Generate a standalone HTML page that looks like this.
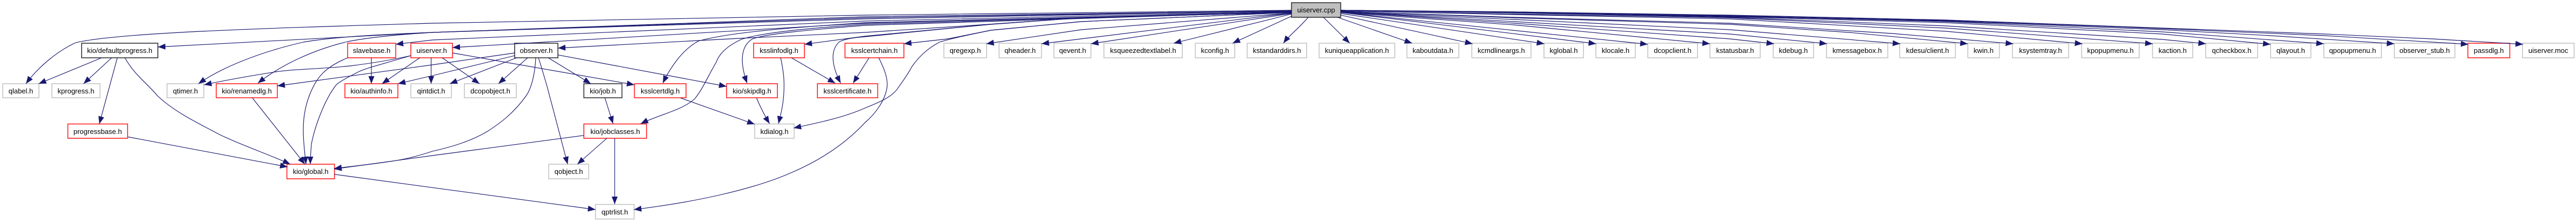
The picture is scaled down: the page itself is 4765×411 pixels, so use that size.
<!DOCTYPE html>
<html><head><meta charset="utf-8"><style>
html,body{margin:0;padding:0;background:#fff;width:4765px;height:411px;overflow:hidden}
svg{display:block}
text{font-family:"Liberation Sans",Arial,sans-serif;font-size:13px;fill:#000;text-anchor:middle}
.n rect{fill:#fff;stroke:#c4c4c4;stroke-width:1.6}
.r rect{fill:#fff;stroke:#ff2020;stroke-width:1.6}
.d rect{fill:#fff;stroke:#333;stroke-width:1.6}
.e path{fill:none;stroke:#191970;stroke-width:1.15;stroke-linejoin:round;marker-end:url(#a)}
</style></head><body>
<svg xmlns="http://www.w3.org/2000/svg" width="4765" height="411" viewBox="0 0 4765 411">
<defs><marker id="a" markerUnits="userSpaceOnUse" markerWidth="16" markerHeight="14" refX="14" refY="6" orient="auto"><path d="M0,0.5L14,6L0,11.5z" fill="#191970"/></marker></defs>
<rect width="4765" height="411" fill="#fff"/>
<g>
<g><rect x="2389" y="5" width="91" height="27" fill="#bfbfbf" stroke="#333" stroke-width="1.6"/><text x="2434.5" y="23">uiserver.cpp</text></g>
<g class="d"><rect x="151" y="80" width="141" height="27"/><text x="221.5" y="98">kio/defaultprogress.h</text></g>
<g class="r"><rect x="643" y="80" width="89" height="27"/><text x="687.5" y="98">slavebase.h</text></g>
<g class="r"><rect x="760" y="80" width="77" height="27"/><text x="798.5" y="98">uiserver.h</text></g>
<g class="d"><rect x="952" y="80" width="80" height="27"/><text x="992" y="98">observer.h</text></g>
<g class="r"><rect x="1394" y="80" width="94" height="27"/><text x="1441" y="98">ksslinfodlg.h</text></g>
<g class="r"><rect x="1563" y="80" width="109" height="27"/><text x="1617.5" y="98">ksslcertchain.h</text></g>
<g class="n"><rect x="1746" y="80" width="79" height="27"/><text x="1785.5" y="98">qregexp.h</text></g>
<g class="n"><rect x="1848" y="80" width="78.500" height="27"/><text x="1887" y="98">qheader.h</text></g>
<g class="n"><rect x="1949.500" y="80" width="68.500" height="27"/><text x="1984" y="98">qevent.h</text></g>
<g class="n"><rect x="2042" y="80" width="145" height="27"/><text x="2114.500" y="98">ksqueezedtextlabel.h</text></g>
<g class="n"><rect x="2211" y="80" width="73" height="27"/><text x="2247.500" y="98">kconfig.h</text></g>
<g class="n"><rect x="2307" y="80" width="110" height="27"/><text x="2362" y="98">kstandarddirs.h</text></g>
<g class="n"><rect x="2440" y="80" width="140" height="27"/><text x="2510" y="98">kuniqueapplication.h</text></g>
<g class="n"><rect x="2602.500" y="80" width="96" height="27"/><text x="2650.500" y="98">kaboutdata.h</text></g>
<g class="n"><rect x="2722.500" y="80" width="109.500" height="27"/><text x="2777" y="98">kcmdlineargs.h</text></g>
<g class="n"><rect x="2856" y="80" width="73" height="27"/><text x="2892.500" y="98">kglobal.h</text></g>
<g class="n"><rect x="2952" y="80" width="73" height="27"/><text x="2988.500" y="98">klocale.h</text></g>
<g class="n"><rect x="3048" y="80" width="92" height="27"/><text x="3094" y="98">dcopclient.h</text></g>
<g class="n"><rect x="3163" y="80" width="93" height="27"/><text x="3209.500" y="98">kstatusbar.h</text></g>
<g class="n"><rect x="3280" y="80" width="74.600" height="27"/><text x="3317.300" y="98">kdebug.h</text></g>
<g class="n"><rect x="3378.600" y="80" width="113.400" height="27"/><text x="3435.300" y="98">kmessagebox.h</text></g>
<g class="n"><rect x="3514" y="80" width="103" height="27"/><text x="3565.500" y="98">kdesu/client.h</text></g>
<g class="n"><rect x="3640" y="80" width="58.500" height="27"/><text x="3669.200" y="98">kwin.h</text></g>
<g class="n"><rect x="3722.500" y="80" width="104" height="27"/><text x="3774.500" y="98">ksystemtray.h</text></g>
<g class="n"><rect x="3850.500" y="80" width="106.500" height="27"/><text x="3903.700" y="98">kpopupmenu.h</text></g>
<g class="n"><rect x="3981.600" y="80" width="74.400" height="27"/><text x="4018.800" y="98">kaction.h</text></g>
<g class="n"><rect x="4080" y="80" width="96" height="27"/><text x="4128" y="98">qcheckbox.h</text></g>
<g class="n"><rect x="4200" y="80" width="74.600" height="27"/><text x="4237.300" y="98">qlayout.h</text></g>
<g class="n"><rect x="4298.500" y="80" width="106.500" height="27"/><text x="4351.700" y="98">qpopupmenu.h</text></g>
<g class="n"><rect x="4429" y="80" width="112" height="27"/><text x="4485" y="98">observer_stub.h</text></g>
<g class="r"><rect x="4565" y="80" width="77.500" height="27"/><text x="4603.700" y="98">passdlg.h</text></g>
<g class="n"><rect x="4666" y="80" width="95.500" height="27"/><text x="4713.700" y="98">uiserver.moc</text></g>
<g class="n"><rect x="5" y="155" width="67" height="26"/><text x="38.500" y="173">qlabel.h</text></g>
<g class="n"><rect x="96" y="155" width="89" height="26"/><text x="140.500" y="173">kprogress.h</text></g>
<g class="n"><rect x="309" y="155" width="68" height="26"/><text x="343" y="173">qtimer.h</text></g>
<g class="r"><rect x="400" y="155" width="113" height="26"/><text x="456.500" y="173">kio/renamedlg.h</text></g>
<g class="r"><rect x="638" y="155" width="98" height="26"/><text x="687" y="173">kio/authinfo.h</text></g>
<g class="n"><rect x="760" y="155" width="75" height="26"/><text x="797.500" y="173">qintdict.h</text></g>
<g class="n"><rect x="859" y="155" width="96" height="26"/><text x="907" y="173">dcopobject.h</text></g>
<g class="d"><rect x="1080" y="155" width="70.500" height="26"/><text x="1115.200" y="173">kio/job.h</text></g>
<g class="r"><rect x="1173.500" y="155" width="95.500" height="26"/><text x="1221.200" y="173">ksslcertdlg.h</text></g>
<g class="r"><rect x="1344" y="155" width="94" height="26"/><text x="1391" y="173">kio/skipdlg.h</text></g>
<g class="r"><rect x="1512" y="155" width="111.500" height="26"/><text x="1567.700" y="173">ksslcertificate.h</text></g>
<g class="r"><rect x="125.500" y="229.500" width="110.500" height="26.500"/><text x="180.700" y="248">progressbase.h</text></g>
<g class="r"><rect x="1080" y="229.500" width="116" height="26.500"/><text x="1138" y="248">kio/jobclasses.h</text></g>
<g class="n"><rect x="1396" y="229.500" width="73" height="26.500"/><text x="1432.500" y="248">kdialog.h</text></g>
<g class="r"><rect x="530.700" y="304" width="88" height="27"/><text x="574.700" y="322">kio/global.h</text></g>
<g class="n"><rect x="1015" y="304" width="74" height="27"/><text x="1052" y="322">qobject.h</text></g>
<g class="n"><rect x="1101.500" y="378.500" width="71.500" height="27"/><text x="1137.200" y="397">qptrlist.h</text></g>
</g>
<g class="e">
<path d="M2389,19L1600,28L800,43C500,52 220,60 140,79C105,95 70,125 48,155"/>
<path d="M2389,20L1600,31L800,60L292,87"/>
<path d="M2389,20L1600,33L800,60C700,64 620,68 561,78C500,92 420,118 367,155"/>
<path d="M2389,20L1600,35L800,60C740,64 690,68 643,77C580,92 520,120 477,154"/>
<path d="M2389,21L1600,39L800,74L732,82"/>
<path d="M2389,22L1600,43L837,88"/>
<path d="M2389,22L1600,42C1450,52 1350,60 1292,76C1262,92 1240,125 1226,154"/>
<path d="M2389,22L1600,45C1500,52 1410,60 1371,73C1345,85 1330,100 1325,115C1310,140 1300,165 1285,183C1260,205 1225,210 1185,229"/>
<path d="M2389,22L1600,47C1500,55 1420,62 1392,72C1370,85 1368,115 1382,154"/>
<path d="M2389,23L2000,33L1800,47L1600,60L1387,70L1032,89"/>
<path d="M2389,23L2000,33L1833,45L1600,68C1575,70 1565,72 1553,77C1538,90 1535,115 1555,154"/>
<path d="M2389,23L2000,33L1833,45L1600,67L1488,82"/>
<path d="M2389,23L2000,40L1833,56L1753,72L1672,81"/>
<path d="M2389,23L2000,40L1833,56C1790,65 1760,71 1738,78C1715,90 1700,105 1687,123C1678,140 1670,150 1661,163C1650,180 1625,190 1600,200C1560,218 1510,228 1468,237"/>
<path d="M2389,24L2000,55L1824.500,81"/>
<path d="M2389,24L1926.500,81"/>
<path d="M2389,25L2018,81"/>
<path d="M2389,26L2171,80"/>
<path d="M2389,30L2280,80"/>
<path d="M2420,32C2400,55 2385,65 2374,80"/>
<path d="M2448,32L2496.700,80"/>
<path d="M2474,32L2612,80"/>
<path d="M2480,28L2724,81"/>
<path d="M2480,25L2856.600,81"/>
<path d="M2480,23L2952.500,81"/>
<path d="M2480,23L3048,82"/>
<path d="M2480,23L2800,46L3163,81"/>
<path d="M2480,22L2800,43L3200,72L3281.600,81"/>
<path d="M2480,22L2800,40L3200,63L3379.600,81"/>
<path d="M2480,22L2800,36L3200,55L3515,81"/>
<path d="M2480,21L2800,33L3200,45L3420,60L3640,81"/>
<path d="M2480,21L2800,32L3200,43L3500,62L3724,81"/>
<path d="M2480,20L2800,27L3200,35L3600,58L3852,81"/>
<path d="M2480,20L2800,26L3200,33L3600,52L3982,81"/>
<path d="M2480,19L2800,24L3200,32L3600,48L4000,73L4080.500,81"/>
<path d="M2480,19L2800,23L3200,31L3600,42L4000,63L4200,82"/>
<path d="M2480,19L2800,23L3200,30L3600,40L4000,59L4298.500,81"/>
<path d="M2480,19L2800,23L3200,30L3600,39L4000,55L4200,66L4429,81"/>
<path d="M2480,19L2800,22L3200,29L3600,38L4000,53L4300,66L4566,82"/>
<path d="M2480,19L2800,22L3200,28L3600,37L4000,52L4300,63L4500,72L4667,82"/>
<path d="M188,107L71.500,155"/>
<path d="M206.600,107L154.600,155"/>
<path d="M217,107L183.700,229.500"/>
<path d="M231,107C250,140 268,150 291,177C320,205 360,225 408,250C450,270 495,285 537,304"/>
<path d="M237,253.500L532,309"/>
<path d="M467,181.500L564,304"/>
<path d="M643,107C600,125 587,143 575,170C562,200 561,227 561,240C561,265 564,285 566,304"/>
<path d="M760,103C710,118 680,125 663,133C640,145 630,150 622,157C600,185 582,235 576,267C575,280 574,292 574,304"/>
<path d="M687,107L687,155"/>
<path d="M760,103C720,112 680,118 648,122C590,128 540,128 510,133C465,140 420,148 377.500,157"/>
<path d="M776.500,107L706.600,155"/>
<path d="M797.500,107L797.500,155"/>
<path d="M818,107L887,155"/>
<path d="M837,98L1173.500,157"/>
<path d="M952,98L800,120L513,159"/>
<path d="M952,103L800,140L736,155"/>
<path d="M955.600,107L832,155"/>
<path d="M976,107L922,155"/>
<path d="M991,107C990,130 985,160 973.500,177C950,210 925,228 902,243C870,262 835,272 800,280C770,290 745,296 714,300C680,305 650,308 618,312"/>
<path d="M996,107C1002,125 1006,140 1012,160L1050,304"/>
<path d="M1014,107L1093,155"/>
<path d="M1032,101.700L1344,160"/>
<path d="M1119,181.500L1134,229"/>
<path d="M1080,250.700L800,288L618,313"/>
<path d="M1122.500,256L1068,304"/>
<path d="M1137,256L1137,378"/>
<path d="M618,322.700L1101.500,388"/>
<path d="M1259,181.500L1396,230"/>
<path d="M1399.500,181.500C1408,202 1415,215 1423.500,229"/>
<path d="M1444,107C1450,135 1451,150 1450,170C1449,195 1444,212 1440,229"/>
<path d="M1464,107L1545,154"/>
<path d="M1607.600,107L1578,154"/>
<path d="M1625.500,107C1637,130 1642,145 1641,160C1638,185 1620,210 1600,227C1560,270 1510,300 1463,320C1390,352 1280,375 1172.500,388"/>
</g>
</svg>
</body></html>
